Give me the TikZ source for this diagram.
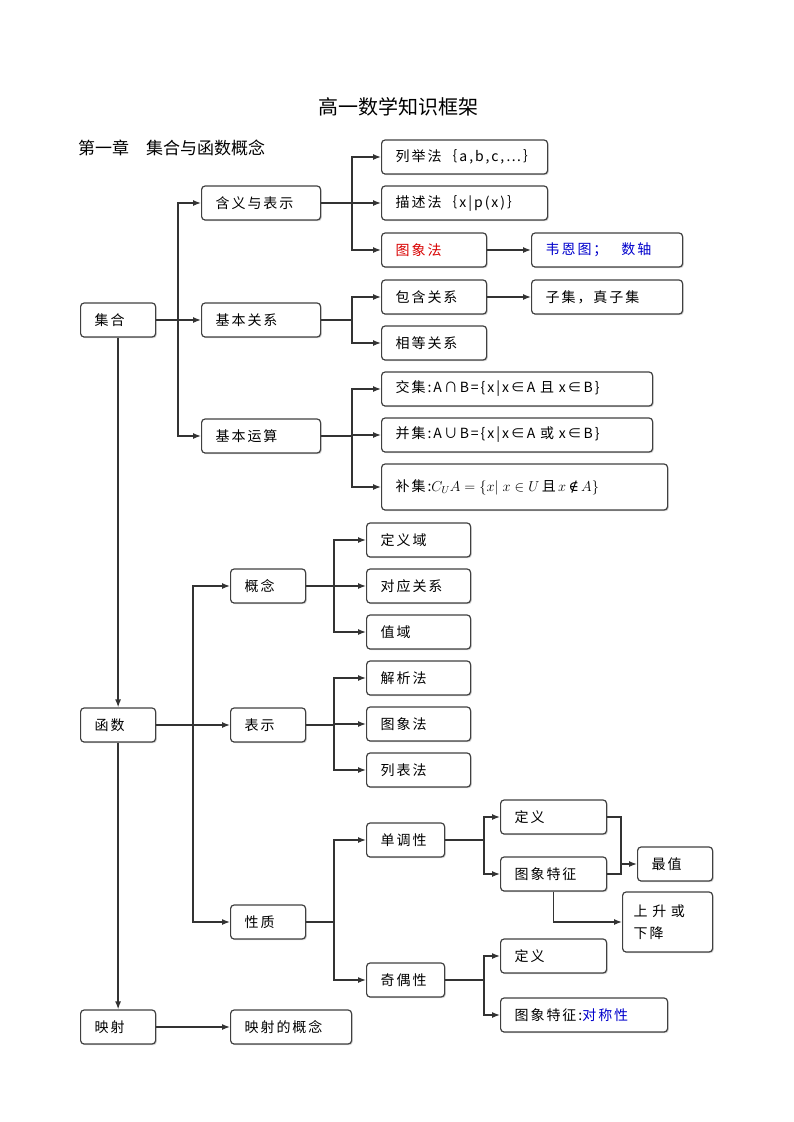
\documentclass[tikz,border=0pt]{standalone}
\usepackage{amsmath}
\usepackage{fontspec}
\setmainfont{Noto Sans CJK SC}
\newfontfamily\symfont{DejaVu Serif}
\usetikzlibrary{arrows.meta,shadows}

\begin{document}
\begin{tikzpicture}[x=1pt,y=-1pt,
	box/.style={draw=black!75, line width=1.2pt, rounded corners=3.5pt, fill=white,
		drop shadow={shadow xshift=1.2pt, shadow yshift=-1.2pt, opacity=0.35},
		anchor=west, align=left, minimum height=34pt, inner xsep=14pt,
		font=\fontsize{14}{17}\selectfont\addfontfeature{LetterSpace=14}},
	line/.style={draw=black!80, line width=1.3pt},
	arr/.style={line, -{Latex[length=8pt,width=6pt]}},
]

% canvas %{{{2

	\useasboundingbox (0,0) rectangle (793,1122);

% titles %{{{2

	\node[font=\fontsize{20}{24}\selectfont] (title) at (398,107) {高一数学知识框架};
	\node[anchor=west, inner sep=0pt, font=\fontsize{17}{20}\selectfont] (chapter) at (78,148) {第一章\quad 集合与函数概念};

% left column %{{{2

	\node[box, text width=47pt] (jihe)   at (80,320)  {集合};
	\node[box, text width=47pt] (hanshu) at (80,725)  {函数};
	\node[box, text width=47pt] (yingshe) at (80,1027) {映射};

% sets %{{{2

	\node[box, text width=91pt] (hanyi)   at (201,203) {含义与表示};
	\node[box, text width=91pt] (guanxi)  at (201,320) {基本关系};
	\node[box, text width=91pt] (yunsuan) at (201,436) {基本运算};

	\node[box, text width=138pt] (liju)   at (381,157) {列举法｛a,b,c,…｝};
	\node[box, text width=138pt] (miaoshu) at (381,203) {描述法｛x|p(x)｝};
	\node[box, text width=77pt, text=red!85!black] (tuxiang) at (381,250) {图象法};
	\node[box, text width=123pt, text=blue!80!black] (venn) at (531,250) {韦恩图；\quad 数轴};

	\node[box, text width=77pt] (baohan)  at (381,297) {包含关系};
	\node[box, text width=123pt] (ziji)   at (531,297) {子集，真子集};
	\node[box, text width=77pt] (xiangdeng) at (381,343) {相等关系};

	\node[box, text width=243pt] (jiao) at (381,389) {交集:A∩B=\{x|x∈A 且 x∈B\}};
	\node[box, text width=243pt] (bing) at (381,435) {并集:A∪B=\{x|x∈A 或 x∈B\}};
	\node[box, text width=258pt, minimum height=46pt] (bu) at (381,487)
		{补集:$C_U A=\{x|\;x\in U\,$且$\,x$\,{\symfont ∉}\,$A\}$};

% functions %{{{2

	\node[box, text width=47pt] (gainian) at (230,586) {概念};
	\node[box, text width=47pt] (biaoshi) at (230,725) {表示};
	\node[box, text width=47pt] (xingzhi) at (230,922) {性质};

	\node[box, text width=76pt] (dingyiyu) at (366,540) {定义域};
	\node[box, text width=76pt] (duiying)  at (366,586) {对应关系};
	\node[box, text width=76pt] (zhiyu)    at (366,632) {值域};

	\node[box, text width=76pt] (jiexi)  at (366,678) {解析法};
	\node[box, text width=76pt] (tuxfa)  at (366,724) {图象法};
	\node[box, text width=76pt] (liebiao) at (366,770) {列表法};

	\node[box, text width=50pt] (dandiao) at (366,840) {单调性};
	\node[box, text width=50pt] (qiou)    at (366,980) {奇偶性};

	\node[box, text width=78pt] (dyA) at (500,817) {定义};
	\node[box, text width=78pt] (tzA) at (500,874) {图象特征};
	\node[box, text width=47pt] (zuizhi) at (637,864) {最值};
	\node[box, text width=68pt, minimum height=60pt, inner xsep=11pt,
		font=\fontsize{14}{22}\selectfont\addfontfeature{LetterSpace=14}] (shengjiang) at (622,922) {上\ 升\ 或\\下降};

	\node[box, text width=78pt] (dyB) at (500,956) {定义};
	\node[box, text width=139pt] (tzB) at (500,1015) {图象特征:\textcolor{blue!80!black}{对称性}};

	\node[box, text width=93pt] (yingshegn) at (230,1027) {映射的概念};

% spines %{{{2

	\coordinate (s1) at (178,0);
	\coordinate (s2) at (352,0);
	\coordinate (s3) at (193,0);
	\coordinate (s4) at (334,0);
	\coordinate (s5) at (484,0);
	\coordinate (s6) at (621,0);

% connectors %{{{2

	\draw[arr] (jihe) -- (hanshu);
	\draw[arr] (hanshu) -- (yingshe);

	\foreach \c in {hanyi,guanxi,yunsuan}
		\draw[arr] (jihe.east) -- (s1 |- jihe) |- (\c);
	\foreach \c in {liju,miaoshu,tuxiang}
		\draw[arr] (hanyi.east) -- (s2 |- hanyi) |- (\c);
	\foreach \c in {baohan,xiangdeng}
		\draw[arr] (guanxi.east) -- (s2 |- guanxi) |- (\c);
	\foreach \c in {jiao,bing,bu}
		\draw[arr] (yunsuan.east) -- (s2 |- yunsuan) |- (\c);

	\draw[arr] (tuxiang) -- (venn);
	\draw[arr] (baohan) -- (ziji);

	\foreach \c in {gainian,biaoshi,xingzhi}
		\draw[arr] (hanshu.east) -- (s3 |- hanshu) |- (\c);
	\foreach \c in {dingyiyu,duiying,zhiyu}
		\draw[arr] (gainian.east) -- (s4 |- gainian) |- (\c);
	\foreach \c in {jiexi,tuxfa,liebiao}
		\draw[arr] (biaoshi.east) -- (s4 |- biaoshi) |- (\c);
	\foreach \c in {dandiao,qiou}
		\draw[arr] (xingzhi.east) -- (s4 |- xingzhi) |- (\c);
	\foreach \c in {dyA,tzA}
		\draw[arr] (dandiao.east) -- (s5 |- dandiao) |- (\c);
	\foreach \c in {dyB,tzB}
		\draw[arr] (qiou.east) -- (s5 |- qiou) |- (\c);

	\draw[line] (dyA.east) -| (s6 |- tzA) -- (tzA.east);
	\draw[arr] (s6 |- zuizhi) -- (zuizhi);
	\draw[arr] (tzA.south) |- (shengjiang);

	\draw[arr] (yingshe) -- (yingshegn);

% closing %{{{2

\end{tikzpicture}
\end{document}
